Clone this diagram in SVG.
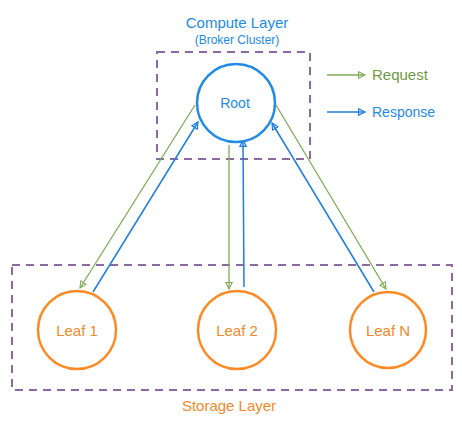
<svg xmlns="http://www.w3.org/2000/svg" width="462" height="424" viewBox="0 0 462 424">
<defs>
<style>
text{font-family:"Liberation Sans","DejaVu Sans",sans-serif}
.box{fill:none;stroke:#8a6aa3;stroke-width:2;stroke-dasharray:8 6}
.root{fill:#fff;stroke:#228be6;stroke-width:2.5}
.leaf{fill:#fff;stroke:#fd8a24;stroke-width:2.5}
.req{stroke:#7fab56;stroke-width:1.3;fill:none;marker-end:url(#ag)}
.res{stroke:#1e7fe0;stroke-width:1.5;fill:none;marker-end:url(#ab)}
.bl{fill:#228be6}
.or{fill:#f08a2a}
.gr{fill:#6e9a45}
</style>
<marker id="ag" viewBox="0 0 10 10" refX="9" refY="5" markerWidth="8" markerHeight="8" orient="auto" markerUnits="userSpaceOnUse">
<path d="M1,1 L9,5 L1,9 Z" fill="none" stroke="#7fab56" stroke-width="1.3"/>
</marker>
<marker id="ab" viewBox="0 0 10 10" refX="9" refY="5" markerWidth="8" markerHeight="8" orient="auto" markerUnits="userSpaceOnUse">
<path d="M1,1 L9,5 L1,9 Z" fill="none" stroke="#1e7fe0" stroke-width="1.5"/>
</marker>
</defs>
<rect width="462" height="424" fill="#fff"/>
<g id="compute-layer">
<rect class="box" x="157" y="52" width="153" height="107"/>
<text class="bl" x="237" y="28" font-size="15" text-anchor="middle">Compute Layer</text>
<text class="bl" x="237" y="44" font-size="12" text-anchor="middle">(Broker Cluster)</text>
</g>
<g id="storage-layer">
<rect class="box" x="12" y="265" width="440" height="125"/>
<text class="or" x="229" y="411" font-size="15" text-anchor="middle">Storage Layer</text>
</g>
<g id="connectors">
<line class="req" x1="195" y1="105" x2="80" y2="288"/>
<line class="res" x1="93" y1="292" x2="198" y2="122"/>
<line class="req" x1="229" y1="145" x2="229" y2="289"/>
<line class="res" x1="244" y1="287" x2="243" y2="140"/>
<line class="req" x1="276" y1="105" x2="386" y2="289"/>
<line class="res" x1="374" y1="292" x2="272" y2="123"/>
</g>
<g id="root">
<circle class="root" cx="236" cy="103" r="39"/>
<text class="bl" x="235" y="108" font-size="14" text-anchor="middle">Root</text>
</g>
<g id="leaf1">
<circle class="leaf" cx="77" cy="330" r="39"/>
<text class="or" x="77" y="336" font-size="15" text-anchor="middle">Leaf 1</text>
</g>
<g id="leaf2">
<circle class="leaf" cx="237" cy="330" r="39"/>
<text class="or" x="237" y="336" font-size="15" text-anchor="middle">Leaf 2</text>
</g>
<g id="leafN">
<circle class="leaf" cx="388" cy="330" r="38"/>
<text class="or" x="388" y="336" font-size="15" text-anchor="middle">Leaf N</text>
</g>
<g id="legend">
<line class="req" x1="327" y1="75" x2="365" y2="75"/>
<text class="gr" x="372" y="80" font-size="15">Request</text>
<line class="res" x1="327" y1="112" x2="365" y2="112"/>
<text class="bl" x="372" y="117" font-size="14">Response</text>
</g>
</svg>
